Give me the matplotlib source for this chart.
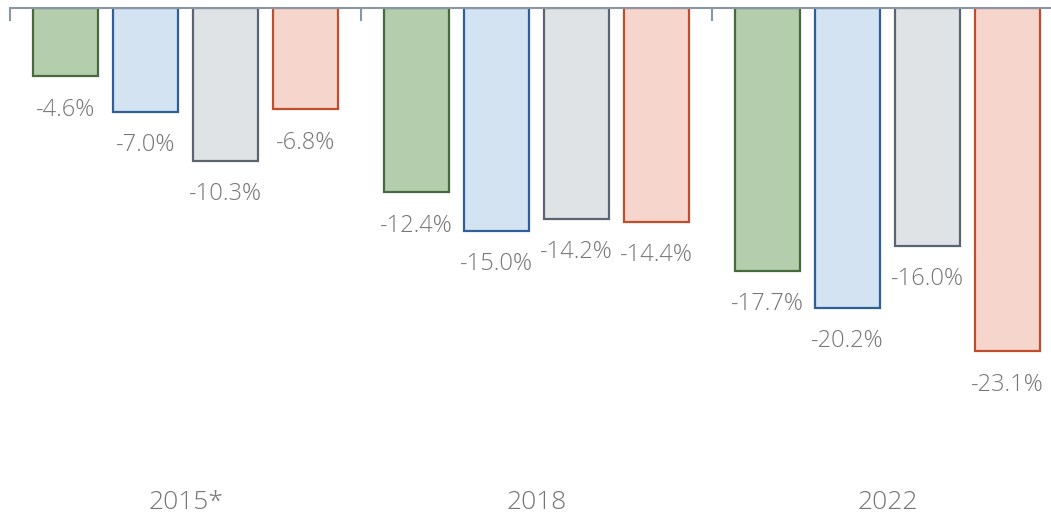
import matplotlib.pyplot as plt
import numpy as np

years = ["2015*", "2018", "2022"]
green = [-4.6, -12.4, -17.7]
blue = [-7.0, -15.0, -20.2]
grey = [-10.3, -14.2, -16.0]
red = [-6.8, -14.4, -23.1]

fills = ["#b3cdad", "#d3e3f2", "#dfe3e6", "#f5d5cc"]
edges = ["#466a3c", "#2f5f96", "#5b6571", "#c04e2c"]
text_col = "#767676"

plt.rcParams['font.family'] = ['Open Sans', 'DejaVu Sans']

fig = plt.figure(figsize=(10.51, 5.15), dpi=100)
# data 0..3 spans px 10..1063, y=0 at px 8
ax = fig.add_axes([10 / 1051, 1 - (8 + 30 * 14.85) / 515, 1053 / 1051, 30 * 14.85 / 515])

x = np.arange(len(years)) + 0.5
step = 80 / 351
width = 65 / 351
series = [green, blue, grey, red]
for i, vals in enumerate(series):
    pos = x + (i - 1.5) * step
    bars = ax.bar(pos, vals, width, color=fills[i], edgecolor=edges[i], linewidth=1.6)
    for b, v in zip(bars, vals):
        ax.annotate(f"{v:.1f}%", (b.get_x() + b.get_width() / 2, v),
                    xytext=(0, -15.5), textcoords="offset points",
                    ha="center", va="top", fontsize=17, color=text_col,
                    fontweight="light")

ax.set_xlim(0, 3)
ax.set_ylim(-30, 0)
for s in ["left", "right", "bottom"]:
    ax.spines[s].set_visible(False)
ax.spines["top"].set_color("#8a96a3")
ax.spines["top"].set_linewidth(1.5)
ax.set_yticks([])
ax.xaxis.tick_top()
ax.set_xticks([0, 1, 2, 3])
ax.set_xticklabels([])
ax.tick_params(axis="x", direction="in", length=9, width=1.5, color="#8a96a3")

for xi, yr in zip(x, years):
    ax.text(xi, -33.3, yr, ha="center", va="center", fontsize=19,
            color=text_col, fontweight="light", clip_on=False)

fig.savefig("out.png", dpi=100)
